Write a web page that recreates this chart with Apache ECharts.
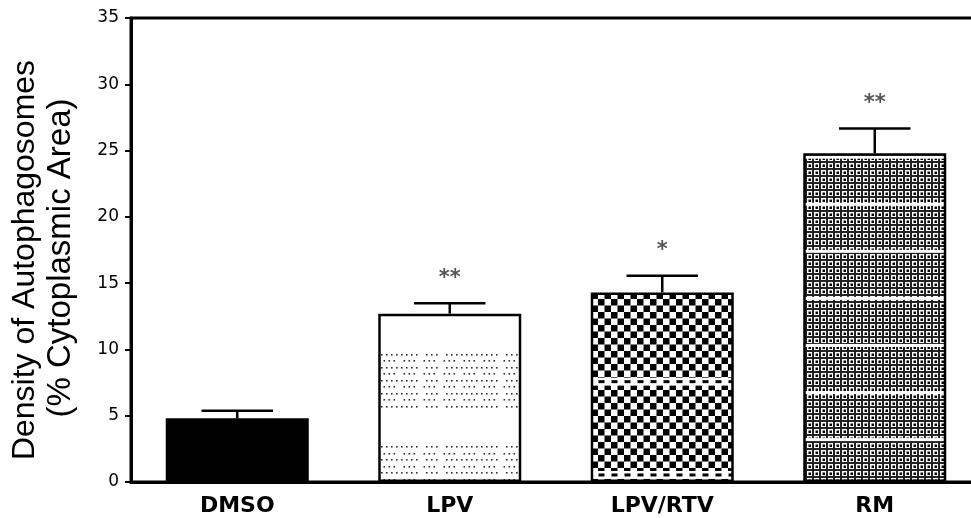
<!DOCTYPE html>
<html><head><meta charset="utf-8">
<script src="https://cdn.jsdelivr.net/npm/echarts@6/dist/echarts.min.js"></script>
<style>html,body{margin:0;padding:0;background:#fff}#c{width:971px;height:518px}</style>
</head><body><div id="c"></div>
<script>
// ---- data ----
const categories = ['DMSO', 'LPV', 'LPV/RTV', 'RM'];
const means = [4.8, 12.7, 14.3, 24.8];
const errors = [0.58, 0.78, 1.25, 1.86];
const significance = ['', '**', '*', '**'];
const yMin = 0, yMax = 35, yInterval = 5;
const titleLines = ['Density of Autophagosomes', '(% Cytoplasmic Area)'];

// ---- layout / style ----
const W = 971, H = 518;
const GRID_LEFT = 131, GRID_TOP = 18, GRID_W = 850, GRID_H = 464;
function yPix(v) { return GRID_TOP + GRID_H * (1 - (v - yMin) / (yMax - yMin)); }
function mk(w, h) { const c = document.createElement('canvas'); c.width = w; c.height = h; return c; }

// texture band definitions (value units) for the fills
const LPV_DOT_BANDS = [[5.66, 9.58], [0.15, 2.64]];
const CHECK_STRIPES = [7.57, 0.53];
const RM_STRIPE_START = 3.2, RM_STRIPE_STEP = 3.55;

function dotPattern() {
  const masks = ['1111011101111111', '1110111011101110'];
  const step = 5, w = masks[0].length * step;
  const c = mk(w, H), g = c.getContext('2d');
  g.fillStyle = '#fff'; g.fillRect(0, 0, w, H);
  g.fillStyle = '#333';
  LPV_DOT_BANDS.forEach(([lo, hi]) => {
    const y0 = yPix(hi), y1 = yPix(lo);
    let r = 0;
    for (let y = y0; y <= y1 + 0.1; y += 6.5, r++) {
      const m = masks[r % 2], off = (r % 2) * 2.5;
      for (let k = 0; k < m.length; k++) if (m[k] === '1') g.fillRect(k * step + off + 1, Math.round(y) - 1, 1.6, 1.6);
    }
  });
  return c;
}
function checkerPattern() {
  const cw = 6.5, w = 13;
  const c = mk(w, H), g = c.getContext('2d');
  g.fillStyle = '#fff'; g.fillRect(0, 0, w, H);
  g.fillStyle = '#000';
  for (let r = 0; r * cw < H; r++) g.fillRect((r % 2) * cw, r * cw, cw, cw);
  CHECK_STRIPES.forEach(v => {
    const y = yPix(v);
    g.fillStyle = '#fff'; g.fillRect(0, y - 4, w, 8);
    g.fillStyle = '#000'; g.fillRect(0.5, y - 1.5, 6, 3);
  });
  return c;
}
function meshPattern() {
  const p = 7, c = mk(p, H), g = c.getContext('2d');
  g.fillStyle = '#fff'; g.fillRect(0, 0, p, H);
  for (let y = 0; y < H; y += p) {
    g.fillStyle = '#222'; g.fillRect(0, y, p, 2); g.fillRect(0, y, 2, p);
    g.fillStyle = '#000'; g.fillRect(3.5, y + 3.5, 2.5, 2.5);
  }
  g.fillStyle = '#fff';
  for (let v = RM_STRIPE_START; v < yMax; v += RM_STRIPE_STEP) { const y = yPix(v); g.fillRect(0, y - 1.5, p, 3); }
  return c;
}

const fills = [
  '#000',
  { image: dotPattern(), repeat: 'repeat' },
  { image: checkerPattern(), repeat: 'repeat' },
  { image: meshPattern(), repeat: 'repeat' }
];

const chart = echarts.init(document.getElementById('c'), null, { renderer: 'canvas', width: W, height: H });
const BAR_FRAC = 0.673;

chart.setOption({
  animation: false,
  backgroundColor: '#fff',
  grid: { left: GRID_LEFT, top: GRID_TOP, width: GRID_W, height: GRID_H, outerBoundsMode: 'none', containLabel: false, show: true, borderColor: '#000', borderWidth: 3, backgroundColor: 'transparent' },
  xAxis: {
    type: 'category', data: categories,
    axisLine: { lineStyle: { color: '#000', width: 3 } },
    axisTick: { alignWithLabel: true, length: 7, lineStyle: { color: '#000', width: 2.5 } },
    axisLabel: { color: '#000', fontFamily: 'DejaVu Sans', fontWeight: 'bold', fontSize: 22, margin: 13 },
    splitLine: { show: false }
  },
  yAxis: {
    type: 'value', min: yMin, max: yMax, interval: yInterval,
    axisLine: { show: true, lineStyle: { color: '#000', width: 3 } },
    axisTick: { show: true, length: 6, lineStyle: { color: '#000', width: 2 } },
    axisLabel: { color: '#000', fontFamily: 'DejaVu Sans', fontSize: 17, margin: 12 },
    splitLine: { show: false }
  },
  graphic: [
    { type: 'text', x: 25, y: 260, rotation: Math.PI / 2, style: { text: titleLines[0], font: '32px "Liberation Sans"', fill: '#000', textAlign: 'center', textVerticalAlign: 'middle' } },
    { type: 'text', x: 61, y: 258, rotation: Math.PI / 2, style: { text: titleLines[1], font: '33px "Liberation Sans"', fill: '#000', textAlign: 'center', textVerticalAlign: 'middle' } }
  ],
  series: [
    {
      type: 'bar', barWidth: (BAR_FRAC * 100) + '%',
      data: means.map((v, i) => ({ value: v, itemStyle: { color: fills[i], borderColor: '#000', borderWidth: i === 0 ? 0 : 2.5 } })),
      emphasis: { disabled: true }, z: 2
    },
    {
      type: 'custom', z: 3,
      data: means.map((m, i) => [i, m, m + errors[i]]),
      renderItem: function (params, api) {
        const base = api.coord([api.value(0), api.value(1)]);
        const top = api.coord([api.value(0), api.value(2)]);
        const half = api.size([1, 0])[0] * BAR_FRAC / 4;
        const st = { stroke: '#000', lineWidth: 2.5 };
        const ch = [
          { type: 'line', shape: { x1: base[0], y1: base[1], x2: top[0], y2: top[1] }, style: st },
          { type: 'line', shape: { x1: top[0] - half, y1: top[1], x2: top[0] + half, y2: top[1] }, style: st }
        ];
        const s = significance[params.dataIndex];
        if (s) ch.push({ type: 'text', x: top[0], y: top[1] - 25, style: { text: s, font: 'bold 21px "DejaVu Sans"', fill: '#555', textAlign: 'center', textVerticalAlign: 'middle' } });
        return { type: 'group', children: ch };
      }
    }
  ]
});
</script>
</body></html>
